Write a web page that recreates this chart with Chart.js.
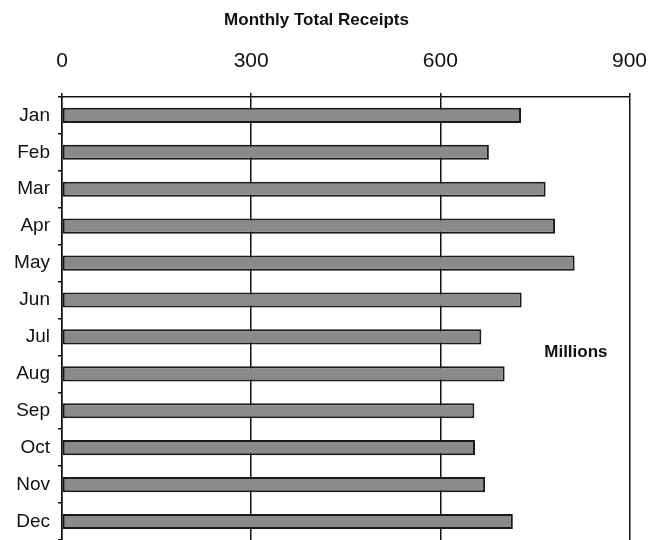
<!DOCTYPE html>
<html>
<head>
<meta charset="utf-8">
<script src="https://cdn.jsdelivr.net/npm/chart.js@4"></script>
<style>
  html, body { margin: 0; padding: 0; background: #fff; }
  #wrap { width: 666px; height: 540px; }
</style>
</head>
<body>
<div id="wrap"><canvas id="grafico"></canvas></div>
<script>
// Dados do gráfico
const meses = ['Jan', 'Feb', 'Mar', 'Apr', 'May', 'Jun', 'Jul', 'Aug', 'Sep', 'Oct', 'Nov', 'Dec'];
const receitas = [728, 677, 767, 782, 813, 729, 665, 702, 654, 655, 671, 715];
const ticksX = [0, 300, 600, 900];

const fonte = "'Liberation Sans', Arial, sans-serif";

// Rótulo "Millions" dentro da área do gráfico
const rotuloMilhoes = {
    id: 'rotuloMilhoes',
    afterDraw(chart) {
        const { ctx, scales } = chart;
        const x = scales.x.getPixelForValue(815);
        const y = scales.y.getPixelForValue(6.42);
        ctx.save();
        ctx.font = 'bold 17px ' + fonte;
        ctx.fillStyle = '#111';
        ctx.textAlign = 'center';
        ctx.textBaseline = 'middle';
        ctx.fillText('Millions', x, y);
        ctx.restore();
    }
};

const ctx = document.getElementById('grafico').getContext('2d');
const grafico = new Chart(ctx, {
    type: 'bar',
    data: {
        labels: meses,
        datasets: [{
            label: 'Receipts',
            data: receitas,
            backgroundColor: '#8a8a8a',
            borderColor: '#1a1a1a',
            borderWidth: 2,
            borderSkipped: false,
            categoryPercentage: 1,
            barPercentage: 0.41
        }]
    },
    options: {
        indexAxis: 'y',
        responsive: true,
        maintainAspectRatio: false,
        animation: false,
        layout: { padding: { left: 0, right: 33, top: 0, bottom: 0 } },
        plugins: {
            legend: { display: false },
            tooltip: { enabled: false },
            title: {
                display: true,
                text: 'Monthly Total Receipts',
                color: '#111',
                font: { family: fonte, size: 17, weight: 'bold' },
                padding: { top: 10, bottom: 0 }
            }
        },
        scales: {
            x: {
                position: 'top',
                min: 0,
                max: 900,
                afterBuildTicks(scale) {
                    scale.ticks = ticksX.map(v => ({ value: v }));
                },
                afterFit(scale) { scale.height = 66.5; },
                ticks: {
                    color: '#111',
                    padding: 19,
                    font: { family: fonte, size: 21 }
                },
                grid: {
                    color: '#111',
                    lineWidth: 1.5,
                    tickLength: 4
                },
                border: { color: '#111', width: 1.5 }
            },
            y: {
                afterFit(scale) {
                    scale.width = 62;
                    scale.paddingTop = 0;
                    scale.paddingBottom = 0;
                },
                ticks: {
                    color: '#111',
                    padding: 8,
                    font: { family: fonte, size: 19 }
                },
                grid: {
                    drawOnChartArea: false,
                    color: '#111',
                    lineWidth: 1.5,
                    tickLength: 4
                },
                border: { color: '#111', width: 1.5 }
            }
        }
    },
    plugins: [rotuloMilhoes]
});
</script>
</body>
</html>
